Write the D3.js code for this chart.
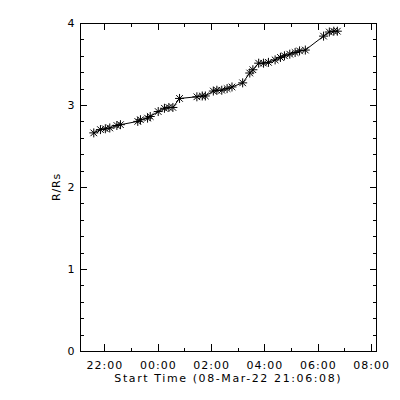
<!DOCTYPE html>
<html>
<head>
<meta charset="utf-8">
<link rel="icon" href="data:,">
<script src="https://d3js.org/d3.v7.min.js"></script>
<style>
  body { margin: 0; background: #fff; }
  svg { display: block; }
  text { font-family: "DejaVu Sans", sans-serif; font-size: 11px; fill: #000; }
</style>
</head>
<body>
<svg id="chart" width="400" height="400"></svg>
<script>
// start times of each measurement, 08 -> 09 Mar 2022 (UT)
const times = [
  "21:36", "21:51", "22:02", "22:12", "22:28", "22:36", "23:15", "23:21",
  "23:37", "23:43", "00:01", "00:15", "00:25", "00:34", "00:49", "01:28",
  "01:40", "01:47", "02:05", "02:13", "02:24", "02:36", "02:47", "03:11",
  "03:27", "03:34", "03:47", "03:58", "04:09", "04:24", "04:36", "04:45",
  "04:57", "05:09", "05:19", "05:32", "06:13", "06:26", "06:36", "06:44"
]
// height in solar radii
const heights = [
  2.66, 2.70, 2.71, 2.72, 2.75, 2.76, 2.80, 2.82, 2.84, 2.86,
  2.92, 2.96, 2.97, 2.97, 3.08, 3.10, 3.11, 3.11, 3.17, 3.18,
  3.18, 3.20, 3.22, 3.27, 3.39, 3.43, 3.51, 3.51, 3.52, 3.55,
  3.58, 3.60, 3.62, 3.64, 3.66, 3.67, 3.84, 3.89, 3.90, 3.90
]
const yTicks = [0, 1, 2, 3, 4]
const xTickLabels = ["22:00", "00:00", "02:00", "04:00", "06:00", "08:00"]
const startTime = "21:06:08"
const endTime = "08:11:00"

// hours elapsed since the start time (wraps past midnight)
function clock(s) {
  const p = s.split(":").map(Number)
  let hrs = p[0] + p[1] / 60 + (p[2] || 0) / 3600
  if (hrs < 12) hrs += 24
  return hrs
}
const t0 = clock(startTime)
const since = s => clock(s) - t0
const data = times.map((t, i) => ({ t: since(t), v: heights[i] }))

const box = { left: 80.5, right: 376, top: 23, bottom: 351 }
const w = box.right - box.left
const h = box.bottom - box.top

const svg = d3.select("#chart")
const g = svg.append("g").attr("transform", `translate(${box.left},${box.top})`)

const x = d3.scaleLinear().domain([0, since(endTime)]).range([0, w])
const y = d3.scaleLinear().domain([0, 4]).range([h, 0])

const majorX = xTickLabels.map(since)
const minorX = d3.range(majorX[0], x.domain()[1], 1)
const yMinor = d3.range(0, 21).map(i => i / 5)

// minor ticks (every hour / 0.2 Rs) on all four sides
function minor(axis) { return axis.tickFormat(() => "").tickSizeOuter(0) }
g.append("g").attr("transform", `translate(0,${h})`)
  .call(minor(d3.axisBottom(x).tickValues(minorX).tickSizeInner(-3.5)))
g.append("g")
  .call(minor(d3.axisTop(x).tickValues(minorX).tickSizeInner(-3.5)))
g.append("g")
  .call(minor(d3.axisLeft(y).tickValues(yMinor).tickSizeInner(-3.5)))
g.append("g").attr("transform", `translate(${w},0)`)
  .call(minor(d3.axisRight(y).tickValues(yMinor).tickSizeInner(-3.5)))

// major ticks
g.append("g").attr("class", "xaxis").attr("transform", `translate(0,${h})`)
  .call(d3.axisBottom(x).tickValues(majorX).tickFormat((d, i) => xTickLabels[i])
    .tickSizeInner(-7).tickSizeOuter(0).tickPadding(8))
g.append("g")
  .call(minor(d3.axisTop(x).tickValues(majorX).tickSizeInner(-7)))
g.append("g").attr("class", "yaxis")
  .call(d3.axisLeft(y).tickValues(yTicks).tickFormat(d3.format("d"))
    .tickSizeInner(-6).tickSizeOuter(0).tickPadding(6))
g.append("g").attr("transform", `translate(${w},0)`)
  .call(minor(d3.axisRight(y).tickValues(yTicks).tickSizeInner(-6)))

g.selectAll(".domain").remove()
g.selectAll(".tick line").attr("stroke", "#000").attr("shape-rendering", "crispEdges")
g.selectAll(".tick text").attr("font-size", null).attr("font-family", null)
g.selectAll(".xaxis .tick text").attr("y", 17.5).attr("dy", null)
  .attr("letter-spacing", "1px")

// frame
g.append("rect").attr("width", w).attr("height", h)
  .attr("fill", "none").attr("stroke", "#000").attr("shape-rendering", "crispEdges")

// connecting line
g.append("path").datum(data)
  .attr("fill", "none").attr("stroke", "#000").attr("stroke-width", 1)
  .attr("d", d3.line().x(d => x(d.t)).y(d => y(d.v)))

// asterisk markers
const r = 4.5, rd = 3.3
const star = `M${-r},0H${r}M0,${-r}V${r}M${-rd},${-rd}L${rd},${rd}M${-rd},${rd}L${rd},${-rd}`
g.selectAll(".pt").data(data).enter().append("path")
  .attr("class", "pt")
  .attr("transform", d => `translate(${x(d.t)},${y(d.v)})`)
  .attr("d", star).attr("stroke", "#000").attr("stroke-width", 1).attr("fill", "none")

// axis titles
svg.append("text")
  .attr("x", box.left + w / 2).attr("y", 382)
  .attr("text-anchor", "middle")
  .attr("letter-spacing", "1.6px")
  .text("Start Time (08-Mar-22 21:06:08)")
svg.append("text")
  .attr("transform", `translate(60,${box.top + h / 2}) rotate(-90)`)
  .attr("text-anchor", "middle")
  .attr("letter-spacing", "0.8px")
  .text("R/Rs")
</script>
</body>
</html>
